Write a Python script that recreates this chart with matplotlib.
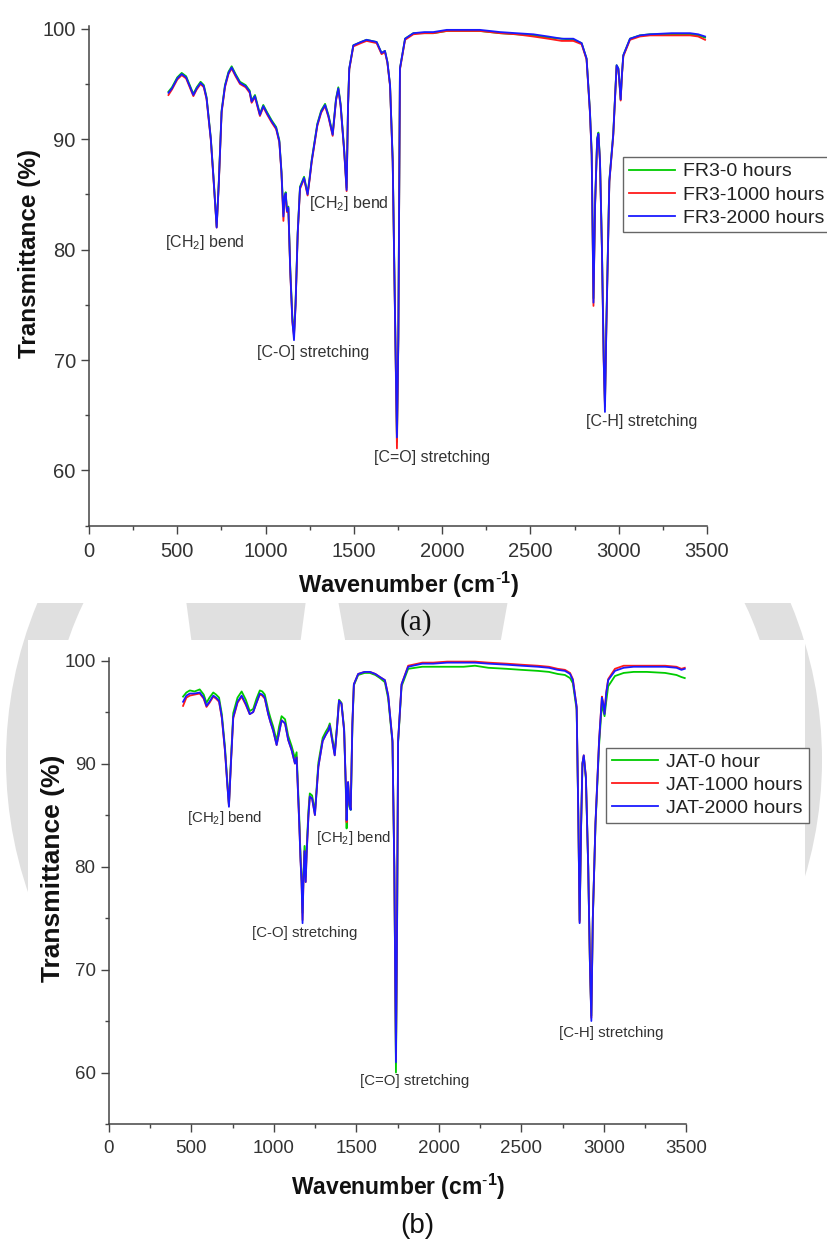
import matplotlib
matplotlib.use("Agg")
import matplotlib.pyplot as plt
from matplotlib.patches import Wedge, Rectangle, Polygon
from matplotlib.ticker import MultipleLocator

plt.rcParams['font.family'] = ['Liberation Sans', 'DejaVu Sans']
plt.rcParams['mathtext.fontset'] = 'custom'
plt.rcParams['mathtext.rm'] = 'Liberation Sans'
plt.rcParams['mathtext.bf'] = 'Liberation Sans:bold'
plt.rcParams['mathtext.it'] = 'Liberation Sans:italic'

# ---- panel (a): FR3 ----
wn_a = [450, 470, 500, 525, 550, 591, 610, 632, 650, 666,
        690, 705, 723, 735, 751, 770, 790, 808, 830, 855,
        887, 910, 921, 940, 968, 987, 1010, 1035, 1060, 1078,
        1090, 1101, 1108, 1114, 1121, 1129, 1140, 1152, 1161, 1170,
        1182, 1195, 1218, 1238, 1250, 1261, 1293, 1315, 1337, 1356,
        1380, 1399, 1412, 1425, 1445, 1459, 1467, 1474, 1497, 1540,
        1572, 1600, 1629, 1657, 1676, 1690, 1705, 1720, 1735, 1744,
        1752, 1761, 1790, 1837, 1900, 1950, 2026, 2139, 2214, 2328,
        2420, 2516, 2600, 2677, 2743, 2790, 2818, 2837, 2847, 2857,
        2866, 2878, 2885, 2894, 2905, 2915, 2922, 2930, 2947, 2969,
        2988, 2998, 3005, 3011, 3018, 3026, 3064, 3120, 3177, 3300,
        3404, 3450, 3489]
fr3_0 = [94.3, 94.7, 95.6, 96.0, 95.7, 94.1, 94.7, 95.2, 94.9, 93.8,
         90.1, 86.6, 82.1, 86.1, 92.6, 94.9, 96.1, 96.6, 95.9, 95.2,
         94.9, 94.4, 93.5, 94.0, 92.3, 93.1, 92.4, 91.7, 91.1, 89.9,
         87.1, 83.3, 84.9, 85.2, 83.6, 83.9, 78.2, 73.8, 72.4, 75.3,
         81.6, 85.7, 86.6, 85.1, 86.6, 88.1, 91.4, 92.6, 93.2, 92.2,
         90.5, 93.7, 94.7, 93.2, 89.1, 85.6, 93.1, 96.4, 98.5, 98.8,
         99.0, 98.9, 98.8, 97.8, 98.0, 97.0, 94.9, 88.2, 72.3, 62.6,
         72.3, 96.4, 99.1, 99.6, 99.6, 99.6, 99.8, 99.8, 99.8, 99.6,
         99.5, 99.4, 99.2, 99.1, 99.0, 98.7, 97.3, 92.6, 88.8, 75.6,
         84.2, 90.1, 90.6, 88.1, 80.2, 70.4, 66.0, 73.4, 86.3, 90.5,
         96.7, 96.4, 95.0, 93.6, 95.8, 97.6, 99.1, 99.4, 99.5, 99.5,
         99.5, 99.4, 99.2]
fr3_1000 = [94.0, 94.5, 95.4, 95.8, 95.5, 93.9, 94.5, 95.0, 94.7, 93.6,
            89.9, 86.4, 82.0, 85.9, 92.4, 94.7, 95.9, 96.4, 95.7, 95.0,
            94.7, 94.2, 93.3, 93.8, 92.1, 92.9, 92.2, 91.5, 90.9, 89.7,
            86.9, 82.6, 84.7, 85.0, 83.4, 83.7, 77.9, 73.4, 72.2, 75.0,
            81.4, 85.5, 86.4, 84.9, 86.4, 87.9, 91.2, 92.4, 93.0, 92.0,
            90.3, 93.5, 94.5, 93.0, 88.9, 85.3, 92.9, 96.3, 98.4, 98.7,
            98.9, 98.8, 98.7, 97.7, 97.9, 96.9, 94.8, 87.9, 71.8, 62.0,
            71.8, 96.3, 99.0, 99.5, 99.6, 99.6, 99.8, 99.8, 99.8, 99.6,
            99.5, 99.3, 99.1, 98.9, 98.9, 98.6, 97.2, 92.4, 88.5, 74.9,
            83.9, 89.9, 90.4, 87.9, 79.9, 69.9, 65.8, 72.9, 86.1, 90.3,
            96.6, 96.3, 94.9, 93.5, 95.7, 97.5, 99.0, 99.3, 99.4, 99.4,
            99.4, 99.3, 99.0]
fr3_2000 = [94.2, 94.6, 95.5, 95.9, 95.6, 94.0, 94.6, 95.1, 94.8, 93.7,
            90.0, 86.5, 82.0, 86.0, 92.5, 94.8, 96.0, 96.5, 95.8, 95.1,
            94.8, 94.3, 93.4, 93.9, 92.2, 93.0, 92.3, 91.6, 91.0, 89.8,
            87.0, 83.0, 84.8, 85.1, 83.5, 83.8, 78.0, 73.5, 71.8, 75.0,
            81.5, 85.6, 86.5, 85.0, 86.5, 88.0, 91.3, 92.5, 93.1, 92.1,
            90.4, 93.6, 94.6, 93.1, 89.0, 85.4, 93.0, 96.4, 98.5, 98.8,
            99.0, 98.9, 98.8, 97.8, 98.0, 97.0, 94.9, 88.0, 72.0, 63.0,
            72.0, 96.4, 99.1, 99.6, 99.7, 99.7, 99.9, 99.9, 99.9, 99.7,
            99.6, 99.5, 99.3, 99.1, 99.1, 98.7, 97.3, 92.5, 88.6, 75.2,
            84.0, 90.0, 90.5, 88.0, 80.0, 70.0, 65.3, 73.0, 86.2, 90.4,
            96.7, 96.4, 95.0, 93.6, 95.8, 97.6, 99.1, 99.4, 99.5, 99.6,
            99.6, 99.5, 99.3]
labels_a = ['FR3-0 hours', 'FR3-1000 hours', 'FR3-2000 hours']

# ---- panel (b): JAT ----
wn_b = [450, 470, 491, 520, 551, 575, 592, 610, 633, 650,
        668, 685, 704, 718, 728, 740, 754, 780, 805, 830,
        854, 875, 895, 915, 930, 945, 966, 980, 996, 1017,
        1032, 1047, 1068, 1087, 1108, 1128, 1138, 1154, 1162, 1168,
        1174, 1180, 1186, 1193, 1199, 1210, 1218, 1232, 1249, 1270,
        1296, 1315, 1330, 1339, 1350, 1369, 1385, 1395, 1410, 1426,
        1436, 1441, 1446, 1450, 1458, 1466, 1476, 1485, 1511, 1550,
        1582, 1615, 1643, 1673, 1693, 1719, 1730, 1740, 1747, 1753,
        1774, 1814, 1900, 1966, 2050, 2150, 2219, 2300, 2411, 2500,
        2600, 2667, 2720, 2764, 2795, 2812, 2835, 2845, 2853, 2862,
        2870, 2878, 2891, 2905, 2916, 2924, 2933, 2949, 2971, 2988,
        2996, 3004, 3014, 3026, 3067, 3120, 3180, 3260, 3371, 3440,
        3470, 3490]
jat_0 = [96.5, 96.9, 97.1, 97.0, 97.2, 96.7, 95.9, 96.4, 96.9, 96.7,
         96.4, 94.8, 91.6, 88.3, 86.0, 90.3, 94.9, 96.4, 97.0, 96.2,
         95.1, 95.3, 96.3, 97.1, 97.0, 96.7, 95.2, 94.4, 93.6, 92.2,
         93.6, 94.6, 94.3, 92.7, 91.7, 90.5, 91.1, 84.8, 81.0, 79.0,
         75.5, 79.5, 82.0, 79.0, 81.8, 85.5, 87.1, 86.9, 85.3, 90.1,
         92.5, 93.1, 93.5, 93.9, 92.9, 91.1, 94.1, 96.2, 95.9, 93.4,
         87.5, 83.7, 86.5, 88.0, 85.8, 85.5, 93.6, 97.6, 98.6, 98.8,
         98.8, 98.6, 98.3, 97.9, 96.3, 92.0, 80.0, 60.0, 74.0, 92.0,
         97.5, 99.2, 99.4, 99.4, 99.4, 99.4, 99.5, 99.3, 99.2, 99.1,
         99.0, 98.9, 98.7, 98.6, 98.3, 97.8, 95.2, 85.0, 74.8, 84.0,
         90.0, 90.7, 88.5, 80.0, 70.0, 65.5, 75.0, 84.0, 91.8, 95.8,
         95.2, 94.6, 96.0, 97.5, 98.5, 98.8, 98.9, 98.9, 98.8, 98.6,
         98.4, 98.3]
jat_1000 = [95.6, 96.4, 96.6, 96.7, 96.8, 96.3, 95.5, 95.9, 96.5, 96.3,
            96.0, 94.4, 91.2, 88.0, 85.9, 90.0, 94.4, 95.9, 96.5, 95.7,
            94.8, 95.0, 95.9, 96.7, 96.6, 96.3, 94.8, 94.0, 93.2, 91.8,
            93.0, 94.2, 93.9, 92.3, 91.3, 90.0, 90.6, 84.2, 80.6, 78.6,
            74.8, 79.0, 81.5, 78.5, 81.3, 85.0, 86.8, 86.6, 85.0, 89.7,
            92.2, 92.8, 93.2, 93.7, 92.6, 90.8, 93.9, 96.1, 95.8, 93.2,
            88.0, 84.3, 87.0, 88.2, 86.0, 85.6, 93.9, 97.7, 98.7, 98.9,
            98.9, 98.7, 98.4, 98.1, 96.6, 92.2, 80.0, 61.3, 75.0, 92.2,
            97.7, 99.5, 99.8, 99.8, 99.9, 99.9, 99.9, 99.8, 99.7, 99.6,
            99.5, 99.4, 99.2, 99.1, 98.8, 98.2, 95.5, 85.0, 74.6, 84.0,
            90.0, 90.8, 88.7, 80.0, 70.0, 65.3, 75.0, 84.2, 92.3, 96.5,
            95.9, 94.9, 96.9, 98.2, 99.2, 99.5, 99.5, 99.5, 99.5, 99.4,
            99.2, 99.3]
jat_2000 = [96.0, 96.6, 96.8, 96.8, 96.9, 96.4, 95.6, 96.0, 96.6, 96.4,
            96.1, 94.5, 91.3, 88.0, 85.8, 90.0, 94.5, 96.0, 96.6, 95.8,
            94.8, 95.0, 95.9, 96.8, 96.7, 96.4, 94.8, 94.0, 93.2, 91.8,
            93.0, 94.2, 93.9, 92.3, 91.3, 90.0, 90.6, 84.2, 80.5, 78.5,
            74.5, 79.0, 81.5, 78.5, 81.3, 85.0, 86.8, 86.6, 85.0, 89.7,
            92.2, 92.8, 93.2, 93.7, 92.6, 90.8, 93.9, 96.1, 95.8, 93.2,
            88.0, 84.5, 87.0, 88.2, 86.0, 85.5, 93.9, 97.7, 98.7, 98.9,
            98.9, 98.7, 98.4, 98.1, 96.6, 92.2, 80.0, 61.0, 75.0, 92.2,
            97.7, 99.4, 99.7, 99.7, 99.8, 99.8, 99.8, 99.7, 99.6, 99.5,
            99.4, 99.3, 99.1, 99.0, 98.7, 98.1, 95.5, 85.0, 74.5, 84.0,
            90.0, 90.8, 88.7, 80.0, 70.0, 65.0, 75.0, 84.2, 92.2, 96.4,
            95.8, 94.8, 96.8, 98.1, 99.0, 99.3, 99.4, 99.4, 99.4, 99.3,
            99.1, 99.2]
labels_b = ['JAT-0 hour', 'JAT-1000 hours', 'JAT-2000 hours']

# peak annotations: (text, wavenumber, transmittance)
notes_a = [('[CH$_2$] bend', 657, 80.6), ('[CH$_2$] bend', 1472, 84.2),
           ('[C-O] stretching', 1268, 70.7), ('[C=O] stretching', 1943, 61.2),
           ('[C-H] stretching', 3132, 64.4)]
notes_b = [('[CH$_2$] bend', 702, 84.7), ('[CH$_2$] bend', 1480, 82.8),
           ('[C-O] stretching', 1186, 73.5), ('[C=O] stretching', 1856, 59.2),
           ('[C-H] stretching', 3043, 63.8)]

colors = ['#00cc00', '#ff1a1a', '#1a1aff']

W, H = 828, 1239
fig = plt.figure(figsize=(W / 100, H / 100), dpi=100)

# page background with the faint watermark
wm = '#e0e0e0'
bg = fig.add_axes([0, 0, 1, 1], zorder=-10)
bg.set_xlim(0, W)
bg.set_ylim(H, 0)
bg.axis('off')
bg.add_patch(Wedge((414, 760), 408, 0, 360, width=42, color=wm, lw=0))
bg.add_patch(Polygon([(186, 600), (306, 600), (300, 645), (192, 645)], color=wm, lw=0))
bg.add_patch(Polygon([(338, 600), (508, 600), (500, 645), (346, 645)], color=wm, lw=0))
bg.add_patch(Rectangle((0, 0), W, 603, color='white', lw=0))
bg.add_patch(Rectangle((28, 640), 777, 563, color='white', lw=0))


def fx(px):
    return px / W


def fy(py):
    return 1 - py / H


def make_panel(box, x, series, labels, notes, fs):
    left, right, top, bottom = box
    ax = fig.add_axes([fx(left), fy(bottom), fx(right - left), (bottom - top) / H])
    ax.set_facecolor('none')
    for y, lab, c in zip(series, labels, colors):
        ax.plot(x, y, color=c, lw=1.3, label=lab)
    ax.set_xlim(0, 3500)
    ax.set_ylim(55, 100.25)
    ax.xaxis.set_major_locator(MultipleLocator(500))
    ax.xaxis.set_minor_locator(MultipleLocator(250))
    ax.yaxis.set_major_locator(MultipleLocator(10))
    ax.yaxis.set_minor_locator(MultipleLocator(5))
    for s in ['top', 'right']:
        ax.spines[s].set_visible(False)
    for s in ['left', 'bottom']:
        ax.spines[s].set_color('#444444')
        ax.spines[s].set_linewidth(1.1)
    ax.tick_params(which='major', direction='out', length=5.5, width=1.0,
                   color='#444444', labelsize=fs['tick'], labelcolor='#333333')
    ax.tick_params(which='minor', direction='out', length=2.8, width=1.0, color='#444444')
    ax.tick_params(axis='x', pad=6)
    ax.tick_params(axis='y', pad=4)
    for txt, xv, yv in notes:
        ax.text(xv, yv, txt, ha='center', va='center', fontsize=fs['note'], color='#333333')
    return ax


fs_a = {'tick': 14.5, 'note': 11.5}
fs_b = {'tick': 13.5, 'note': 10.8}

ax_a = make_panel((89, 707, 26, 525.7), wn_a, [fr3_0, fr3_1000, fr3_2000],
                  labels_a, notes_a, fs_a)
ax_b = make_panel((108.8, 686.4, 658, 1124), wn_b, [jat_0, jat_1000, jat_2000],
                  labels_b, notes_b, fs_b)

for ax, (lx, ly) in [(ax_a, (622.7, 157)), (ax_b, (606, 747.7))]:
    leg = ax.legend(loc='upper left', bbox_to_anchor=(fx(lx), fy(ly)),
                    bbox_transform=fig.transFigure, fontsize=14, fancybox=False,
                    framealpha=1, edgecolor='#666666', borderaxespad=0,
                    borderpad=0.3, handlelength=2.4, handletextpad=0.4,
                    labelspacing=0.28)
    leg.get_frame().set_linewidth(1.0)
    for t in leg.get_texts():
        t.set_color('#222222')

# axis titles and panel captions
xlab = 'Wavenumber (cm$^{\\mathbf{\\text{-}1}}$)'
fig.text(fx(30), fy(253), 'Transmittance (%)', rotation=90, ha='center', va='center',
         fontsize=17.5, fontweight='bold', color='#111111')
fig.text(fx(53), fy(868), 'Transmittance (%)', rotation=90, ha='center', va='center',
         fontsize=19, fontweight='bold', color='#111111')
fig.text(fx(409), fy(585), xlab, ha='center', va='center',
         fontsize=17, fontweight='bold', color='#111111')
fig.text(fx(398), fy(1187), xlab, ha='center', va='center',
         fontsize=16.5, fontweight='bold', color='#111111')
fig.text(fx(416), fy(623), '(a)', ha='center', va='center', fontsize=21,
         family='Liberation Serif', color='#111111')
fig.text(fx(417), fy(1226), '(b)', ha='center', va='center', fontsize=20, color='#111111')

fig.savefig('out.png', dpi=100)
